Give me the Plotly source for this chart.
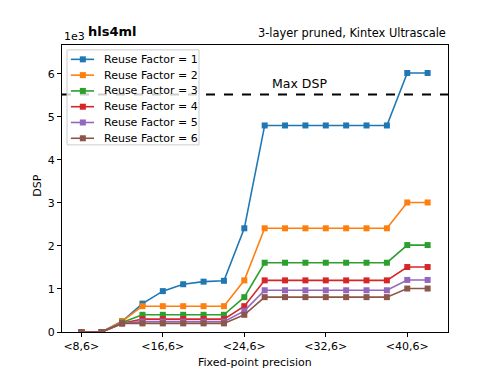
import plotly.graph_objects as go

precision = [8, 10, 12, 14, 16, 18, 20, 22, 24, 26, 28, 30, 32, 34, 36, 38, 40, 42]
tick_vals = [8, 16, 24, 32, 40]
tick_text = ["<8,6>", "<16,6>", "<24,6>", "<32,6>", "<40,6>"]

# DSP usage in units of 1e3
rf1 = [0, 0, 0.25, 0.66, 0.95, 1.11, 1.17, 1.19, 2.41, 4.8, 4.8, 4.8, 4.8, 4.8, 4.8, 4.8, 6.02, 6.02]
rf2 = [0, 0, 0.25, 0.6, 0.6, 0.6, 0.6, 0.6, 1.2, 2.41, 2.41, 2.41, 2.41, 2.41, 2.41, 2.41, 3.01, 3.01]
rf3 = [0, 0, 0.22, 0.4, 0.4, 0.4, 0.4, 0.4, 0.81, 1.61, 1.61, 1.61, 1.61, 1.61, 1.61, 1.61, 2.02, 2.02]
rf4 = [0, 0, 0.2, 0.3, 0.3, 0.3, 0.3, 0.3, 0.6, 1.2, 1.2, 1.2, 1.2, 1.2, 1.2, 1.2, 1.51, 1.51]
rf5 = [0, 0, 0.2, 0.24, 0.24, 0.24, 0.24, 0.24, 0.49, 0.97, 0.97, 0.97, 0.97, 0.97, 0.97, 0.97, 1.21, 1.21]
rf6 = [0, 0, 0.2, 0.2, 0.2, 0.2, 0.2, 0.2, 0.4, 0.81, 0.81, 0.81, 0.81, 0.81, 0.81, 0.81, 1.01, 1.01]
max_dsp = 5.52

series = [rf1, rf2, rf3, rf4, rf5, rf6]
names = ["Reuse Factor = %d" % (i + 1) for i in range(6)]
colors = ["#1f77b4", "#ff7f0e", "#2ca02c", "#d62728", "#9467bd", "#8c564b"]

fig = go.Figure()
for vals, name, col in zip(series, names, colors):
    fig.add_trace(go.Scatter(x=precision, y=vals, name=name, mode="lines+markers",
                             line=dict(color=col, width=1.6),
                             marker=dict(symbol="square", size=6, color=col)))

fig.add_hline(y=max_dsp, line=dict(color="black", width=2, dash="dash"))
fig.add_annotation(x=29.4, y=max_dsp, text="Max DSP", showarrow=False, yanchor="bottom", yshift=1,
                   font=dict(size=12.5, color="black"))

# legend drawn by hand (matplotlib-like compact spacing)
fig.add_shape(type="rect", xref="paper", yref="paper", x0=0.013, x1=0.355, y0=0.652, y1=0.983,
              line=dict(color="#cccccc", width=1), fillcolor="rgba(255,255,255,0.8)", layer="above")
for i, (name, col) in enumerate(zip(names, colors)):
    ly = 0.950 - i * 0.055
    fig.add_shape(type="line", xref="paper", yref="paper", x0=0.023, x1=0.083, y0=ly, y1=ly,
                  line=dict(color=col, width=1.6), layer="above")
    fig.add_shape(type="rect", xref="paper", yref="paper", x0=0.054 - 0.0078, x1=0.054 + 0.0078,
                  y0=ly - 0.0105, y1=ly + 0.0105, line=dict(width=0), fillcolor=col, layer="above")
    fig.add_annotation(xref="paper", yref="paper", x=0.104, y=ly, text=name, showarrow=False,
                       xanchor="left", yanchor="middle", font=dict(size=11, color="black"))

fig.add_annotation(xref="paper", yref="paper", x=0.062, y=1.015, text="<b>hls4ml</b>", showarrow=False,
                   xanchor="left", yanchor="bottom", font=dict(size=13, color="black"))
fig.add_annotation(xref="paper", yref="paper", x=1.0, y=1.01, text="3-layer pruned, Kintex Ultrascale",
                   showarrow=False, xanchor="right", yanchor="bottom", font=dict(size=11.4, color="black"))
fig.add_annotation(xref="paper", yref="paper", x=0.0, y=1.0, text="1e3", showarrow=False,
                   xanchor="left", yanchor="bottom", font=dict(size=11, color="black"))

# axis titles
fig.add_annotation(xref="paper", yref="paper", x=0.5, y=-0.105, text="Fixed-point precision", showarrow=False,
                   xanchor="center", yanchor="middle", font=dict(size=11, color="black"))
fig.add_annotation(xref="paper", yref="paper", x=-0.062, y=0.51, text="DSP", showarrow=False, textangle=-90,
                   xanchor="center", yanchor="middle", font=dict(size=11, color="black"))

axis_style = dict(showline=True, linecolor="black", linewidth=1, mirror=True, showgrid=False, zeroline=False,
                  ticks="outside", ticklen=4, tickcolor="black", tickfont=dict(size=11, color="black"),
                  automargin=False)

fig.update_xaxes(range=[6.1, 44.0], tickvals=tick_vals, ticktext=tick_text, **axis_style)
fig.update_yaxes(range=[0, 6.67], tickvals=[0, 1, 2, 3, 4, 5, 6], **axis_style)

# page body adds an 8px offset, so the figure is shrunk by that much
fig.update_layout(width=490, height=366, margin=dict(l=54, r=50, t=37, b=42),
                  plot_bgcolor="white", paper_bgcolor="white", showlegend=False,
                  font=dict(family="DejaVu Sans", size=11, color="black"))

fig.write_html("out.html")
